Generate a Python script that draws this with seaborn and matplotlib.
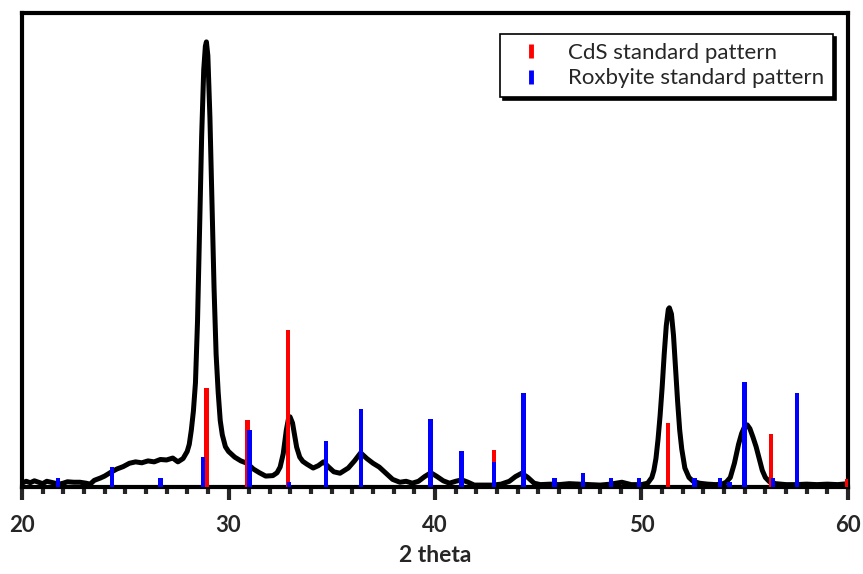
import numpy as np
import pandas as pd
import matplotlib
matplotlib.use("Agg")
import matplotlib.pyplot as plt
from matplotlib.lines import Line2D
import seaborn as sns

# measured XRD curve (2 theta, intensity in % of axis height)
theta = [20.0, 20.2, 20.4, 20.6, 20.8, 21.0, 21.2, 21.5, 21.8, 22.0, 22.2, 22.5,
         22.8, 23.1, 23.3, 23.5, 23.8, 24.0, 24.3, 24.6, 24.9, 25.2, 25.5, 25.8,
         26.1, 26.4, 26.7, 27.0, 27.3, 27.55, 27.8, 28.0, 28.1, 28.2, 28.3, 28.4,
         28.5, 28.6, 28.7, 28.8, 28.88, 28.93, 29.0, 29.1, 29.2, 29.3, 29.4, 29.5,
         29.6, 29.7, 29.85, 30.0, 30.3, 30.6, 30.9, 31.2, 31.5, 31.8, 32.15, 32.35,
         32.5, 32.65, 32.8, 32.9, 32.98, 33.1, 33.2, 33.3, 33.45, 33.6, 33.8, 34.1,
         34.35, 34.6, 34.85, 35.1, 35.4, 35.8, 36.1, 36.4, 36.7, 37.0, 37.3, 37.6,
         37.95, 38.3, 38.6, 38.9, 39.2, 39.5, 39.8, 40.1, 40.4, 40.7, 41.0, 41.3,
         41.6, 41.9, 42.3, 42.8, 43.2, 43.6, 43.9, 44.2, 44.5, 44.8, 45.1, 45.6,
         46.0, 46.5, 47.0, 47.5, 48.0, 48.5, 49.05, 49.5, 50.0, 50.3, 50.5, 50.6,
         50.7, 50.8, 50.9, 51.0, 51.1, 51.2, 51.3, 51.35, 51.45, 51.55, 51.65, 51.75,
         51.85, 51.95, 52.1, 52.3, 52.5, 52.8, 53.2, 53.6, 53.9, 54.1, 54.3, 54.5,
         54.6, 54.7, 54.85, 55.0, 55.12, 55.25, 55.4, 55.55, 55.7, 55.85, 56.0, 56.2,
         56.5, 57.0, 57.5, 58.0, 58.5, 59.0, 59.5, 60.0]
intensity = [0.8, 1.2, 0.9, 1.3, 1.0, 0.7, 1.2, 0.9, 0.6, 0.8, 1.1, 1.0,
             1.0, 0.8, 0.6, 1.4, 1.9, 2.3, 3.1, 3.8, 4.3, 5.0, 5.3, 5.1,
             5.5, 5.3, 5.8, 5.7, 6.1, 5.3, 6.0, 7.5, 9.0, 12.0, 16.0, 22.0,
             35.0, 55.0, 74.0, 88.0, 93.0, 93.9, 91.0, 78.0, 60.0, 42.0, 28.0, 20.0,
             14.0, 11.0, 8.5, 7.5, 6.3, 5.5, 5.0, 3.8, 3.0, 2.3, 2.4, 3.0,
             4.2, 7.0, 12.0, 14.3, 14.8, 13.5, 11.0, 8.4, 6.3, 5.4, 4.8, 4.0,
             4.5, 5.3, 4.2, 3.2, 2.9, 4.0, 5.5, 7.2, 6.0, 5.0, 4.2, 3.0,
             1.6, 1.0, 1.2, 0.8, 1.2, 2.2, 3.0, 2.2, 1.3, 0.8, 1.2, 1.5,
             1.0, 0.4, 0.4, 0.4, 0.6, 1.2, 2.2, 2.9, 2.0, 0.8, 0.5, 0.6,
             0.5, 0.7, 0.6, 0.5, 0.4, 0.6, 1.0, 0.5, 0.5, 0.8, 2.0, 3.5,
             6.0, 10.0, 15.0, 21.0, 28.0, 34.0, 37.5, 37.8, 36.5, 32.0, 25.0, 18.0,
             12.0, 8.0, 4.0, 2.0, 1.2, 0.8, 0.6, 0.5, 0.6, 1.0, 2.0, 5.0,
             7.0, 9.0, 11.3, 12.8, 13.1, 12.3, 10.5, 8.5, 6.0, 3.5, 2.0, 1.1,
             0.7, 0.5, 0.5, 0.6, 0.5, 0.6, 0.5, 0.7]

# reference patterns
cds_pos = [28.95, 30.93, 32.88, 42.86, 51.28, 56.27, 59.95]
cds_int = [20.9, 14.1, 33.1, 7.8, 13.5, 11.2, 1.7]
rox_pos = [21.74, 24.36, 26.7, 28.77, 31.0, 32.93, 34.72, 36.42, 39.8, 41.3,
           42.86, 44.3, 45.8, 47.17, 48.52, 49.88, 52.57, 53.8, 54.28, 55.0,
           56.37, 57.53]
rox_int = [1.9, 4.2, 1.9, 6.3, 12.0, 1.1, 9.7, 16.5, 14.3, 7.6,
           5.3, 19.8, 1.9, 3.0, 1.9, 1.9, 1.9, 1.9, 1.0, 22.2,
           1.9, 19.8]

sns.set_style("white")
plt.rcParams['font.family'] = ['Lato', 'DejaVu Sans']

fig, ax = plt.subplots(figsize=(8.63, 5.74), dpi=100)
fig.subplots_adjust(left=0.0255, right=0.9826, bottom=0.1516, top=0.9774)

df = pd.DataFrame({"theta": theta, "intensity": intensity})
sns.lineplot(data=df, x="theta", y="intensity", sort=False, color="black",
             linewidth=3.6, ax=ax, zorder=2)
ax.bar(cds_pos, cds_int, width=0.23, color="#ff0000", edgecolor="none",
       linewidth=0, zorder=3)
ax.bar(rox_pos, rox_int, width=0.23, color="#0000ff", edgecolor="none",
       linewidth=0, zorder=4)

ax.set_xlim(20, 60)
ax.set_ylim(0, 100)
ax.set_xticks([20, 30, 40, 50, 60])
ax.set_xticks(np.arange(20, 61, 1), minor=True)
ax.set_yticks([])
ax.tick_params(axis="x", which="major", direction="out", length=9.5, width=3,
               labelsize=16, pad=11, bottom=True)
ax.tick_params(axis="x", which="minor", direction="out", length=5, width=3,
               bottom=True)
for lab in ax.get_xticklabels():
    lab.set_fontweight("bold")
for s in ax.spines.values():
    s.set_color("black")
    s.set_linewidth(3)
ax.set_xlabel("2 theta", fontsize=16.5, fontweight="bold", labelpad=6)
ax.set_ylabel("")

handles = [Line2D([], [], color="#ff0000", marker="|", linestyle="none",
                  markersize=10, markeredgewidth=3.5),
           Line2D([], [], color="#0000ff", marker="|", linestyle="none",
                  markersize=10, markeredgewidth=3.5)]
leg = ax.legend(handles, ["CdS standard pattern", "Roxbyite standard pattern"],
                loc="upper right", bbox_to_anchor=(0.9818, 0.9557),
                fontsize=16, frameon=True, fancybox=False, framealpha=1,
                edgecolor="black", borderpad=0.4, handletextpad=0.65,
                labelspacing=0.25, borderaxespad=0,
                shadow={"color": "black", "alpha": 1})
leg.get_frame().set_linewidth(1.2)
leg.set_zorder(10)

plt.savefig("out.png", dpi=100)
